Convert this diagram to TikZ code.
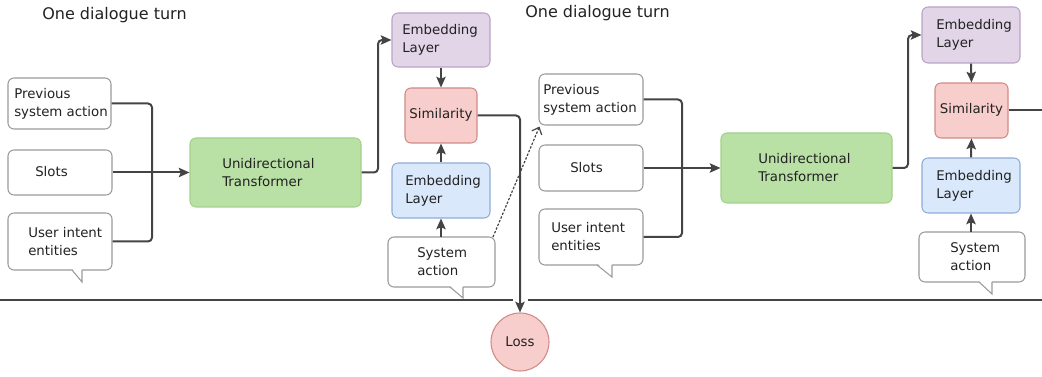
\documentclass[tikz,border=0pt]{standalone}
\usepackage{fontspec}
\setmainfont{DejaVu Sans}
\usetikzlibrary{arrows.meta,calc}
\definecolor{linec}{HTML}{444444}
\definecolor{boxb}{HTML}{9A9A9A}
\definecolor{txtc}{HTML}{222222}
\definecolor{greenf}{HTML}{B9E0A5}
\definecolor{greenb}{HTML}{A3D18A}
\definecolor{purplef}{HTML}{E1D5E7}
\definecolor{purpleb}{HTML}{B9A3C6}
\definecolor{redf}{HTML}{F8CECC}
\definecolor{redb}{HTML}{D08A87}
\definecolor{bluef}{HTML}{DAE8FC}
\definecolor{blueb}{HTML}{8FACD6}
\tikzset{
  wh/.style 2 args={minimum width=#1*0.75pt, minimum height=#2*0.75pt},
  box/.style={draw=boxb, line width=0.8pt, fill=white, rounded corners=4.5pt, inner sep=0pt},
  greenbox/.style={box, draw=greenb, fill=greenf},
  purplebox/.style={box, draw=purpleb, fill=purplef},
  redbox/.style={box, draw=redb, fill=redf},
  bluebox/.style={box, draw=blueb, fill=bluef},
  lbl/.style={font=\fontsize{10}{13.5}\selectfont, text=txtc, align=left, inner sep=0pt, anchor=west},
  clbl/.style={font=\fontsize{10}{13.5}\selectfont, text=txtc, align=center, inner sep=0pt},
  title/.style={font=\fontsize{12}{14}\selectfont, text=txtc, inner sep=0pt, anchor=west},
  conn/.style={draw=linec, line width=1.5pt, rounded corners=3pt},
  arr/.style={conn, -{Stealth[length=8pt,width=7pt,inset=1.5pt]}},
  darr/.style={draw=linec, line width=0.9pt, dash pattern=on 1.8pt off 1.2pt, -{Straight Barb[length=4.5pt,width=8pt]}},
  tail/.style={draw=boxb, line width=0.8pt, fill=white},
}
\begin{document}
\begin{tikzpicture}[x=0.75pt,y=-0.75pt]
\useasboundingbox (0,0) rectangle (1042,377);

% separator line
\draw[draw=linec, line width=1pt] (0,300) -- (513,300);
\draw[draw=linec, line width=1pt] (528,300) -- (1042,300);

% ---------- panel 1 ----------
\node[title] (t1) at (42,15) {One dialogue turn};
\node[box, wh={103}{51}] (prev1) at (59.5,103.5) {};
\node[lbl] (prev1t) at (14,103.5) {Previous\\system action};
\node[box, wh={104}{45}] (slots1) at (60,172.5) {};
\node[lbl] (slots1t) at (35,171.5) {Slots};
\node[box, wh={104}{57}] (user1) at (60,241.5) {};
\node[lbl] (user1t) at (28,242) {User intent\\entities};
\fill[white] (71,267) -- (82,282) -- (82,267) -- cycle;
\draw[tail, fill=none] (72,270) -- (82,282) -- (82,270);

\node[greenbox, wh={171}{69}] (trans1) at (275.5,172.5) {};
\node[lbl] (trans1t) at (222,172.5) {Unidirectional\\Transformer};

\node[purplebox, wh={98}{54}] (emb1) at (441,40) {};
\node[lbl] (emb1t) at (402,40) {Embedding\\Layer};
\node[redbox, wh={72}{55}] (sim1) at (441,115.5) {};
\node[clbl] (sim1t) at (441,115) {Similarity};
\node[bluebox, wh={98}{55}] (embb1) at (441,190.5) {};
\node[lbl] (embb1t) at (405,190.5) {Embedding\\Layer};
\node[box, wh={107}{50}] (sys1) at (441.5,262) {};
\node[lbl] (sys1t) at (417,262) {System\\action};
\fill[white] (449,285) -- (463,298) -- (463,285) -- cycle;
\draw[tail, fill=none] (450,287) -- (463,298) -- (463,287);

\node[circle, draw=redb, fill=redf, line width=0.8pt, minimum size=58*0.75pt, inner sep=0pt] (loss) at (520,342) {};
\node[clbl] (losst) at (520,342) {Loss};

\coordinate (m1) at (152,172.5);
\draw[conn] (prev1.east) -- (152,103.5) -- (m1);
\draw[conn] (user1.east) -- (152,241.5) -- (m1);
\draw[arr] (slots1.east) -- (trans1.west);
\draw[arr] (trans1.east) -- (378,172.5) -- (378,40) -- (emb1.west);
\draw[arr] (emb1.south) -- (sim1.north);
\draw[arr] (embb1.north) -- (sim1.south);
\draw[arr] (441,237) -- (embb1.south);
\draw[arr] (sim1.east) -- (520,115.5) -- (loss.north);

% ---------- panel 2 ----------
\node[title] (t2) at (525,13) {One dialogue turn};
\node[box, wh={104}{51}] (prev2) at (591,99.5) {};
\node[lbl] (prev2t) at (543,99.5) {Previous\\system action};
\node[box, wh={104}{46}] (slots2) at (591,168) {};
\node[lbl] (slots2t) at (570,167.5) {Slots};
\node[box, wh={104}{56}] (user2) at (591,237) {};
\node[lbl] (user2t) at (551,237) {User intent\\entities};
\fill[white] (596,262) -- (612,277) -- (612,262) -- cycle;
\draw[tail, fill=none] (597,265) -- (612,277) -- (612,265);

\node[greenbox, wh={171}{70}] (trans2) at (806.5,168) {};
\node[lbl] (trans2t) at (758,168) {Unidirectional\\Transformer};

\node[purplebox, wh={98}{56}] (emb2) at (971,35) {};
\node[lbl] (emb2t) at (936,35) {Embedding\\Layer};
\node[redbox, wh={73}{55}] (sim2) at (971.5,110.5) {};
\node[clbl] (sim2t) at (971.5,110) {Similarity};
\node[bluebox, wh={98}{55}] (embb2) at (971,185.5) {};
\node[lbl] (embb2t) at (936,185.5) {Embedding\\Layer};
\node[box, wh={106}{50}] (sys2) at (972,257) {};
\node[lbl] (sys2t) at (950,257) {System\\action};
\fill[white] (978,280) -- (992,294) -- (992,280) -- cycle;
\draw[tail, fill=none] (979,282) -- (992,294) -- (992,282);

\coordinate (m2) at (682,168);
\draw[conn] (prev2.east) -- (682,99.5) -- (m2);
\draw[conn] (user2.east) -- (682,237) -- (m2);
\draw[arr] (slots2.east) -- (trans2.west);
\draw[arr] (trans2.east) -- (908,168) -- (908,35) -- (emb2.west);
\draw[arr] (emb2.south) -- (sim2.north);
\draw[arr] (embb2.north) -- (sim2.south);
\draw[arr] (971,232) -- (embb2.south);
\coordinate (out2) at (1042,110.5);
\draw[conn] (sim2.east) -- (out2);

% dashed link between turns
\coordinate (d1) at (493,237);
\draw[darr] (d1) -- ($(prev2.south west)+(1,1)$);
\end{tikzpicture}
\end{document}
